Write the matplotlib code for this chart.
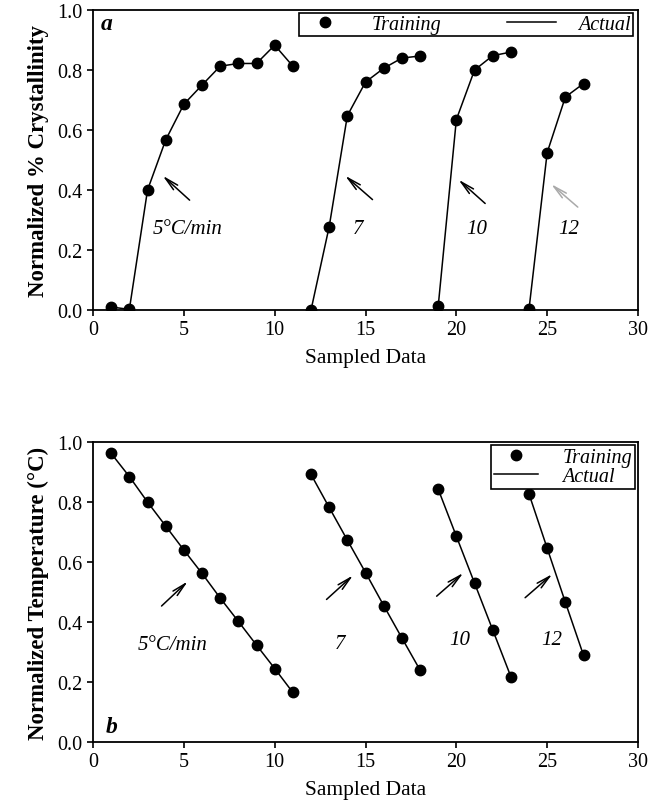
import matplotlib
matplotlib.use('Agg')

import matplotlib.pyplot as plt

plt.rcParams['font.family'] = ['Liberation Serif', 'DejaVu Serif']

# panel a: crystallinity
xa_5 = list(range(1, 12))
ya_5 = [0.01, 0.002, 0.40, 0.567, 0.686, 0.75, 0.813, 0.822, 0.822, 0.883, 0.813]
xa_7 = list(range(12, 19))
ya_7 = [0.0, 0.278, 0.648, 0.76, 0.806, 0.84, 0.847]
xa_10 = list(range(19, 24))
ya_10 = [0.012, 0.635, 0.80, 0.848, 0.86]
xa_12 = list(range(24, 28))
ya_12 = [0.003, 0.525, 0.71, 0.755]

# panel b: temperature
xb_5 = list(range(1, 12))
yb_5 = [0.962, 0.885, 0.80, 0.72, 0.64, 0.562, 0.48, 0.402, 0.323, 0.245, 0.165]
xb_7 = list(range(12, 19))
yb_7 = [0.892, 0.782, 0.673, 0.565, 0.455, 0.347, 0.24]
xb_10 = list(range(19, 24))
yb_10 = [0.843, 0.686, 0.53, 0.374, 0.218]
xb_12 = list(range(24, 28))
yb_12 = [0.827, 0.646, 0.466, 0.289]

rate_labels = ['5\u00b0C/min', '7', '10', '12']

fig = plt.figure(figsize=(6.57, 8.04), dpi=100)
ax_a = fig.add_axes([0.1416, 0.6132, 0.8295, 0.373])
ax_b = fig.add_axes([0.1416, 0.0759, 0.8295, 0.373])


def style_axes(ax):
    ax.set_xlim(0, 30)
    ax.set_ylim(0, 1.0)
    ax.set_xticks([0, 5, 10, 15, 20, 25, 30])
    ax.set_yticks([0.0, 0.2, 0.4, 0.6, 0.8, 1.0])
    ax.set_yticklabels(['0.0', '0.2', '0.4', '0.6', '0.8', '1.0'])
    ax.tick_params(direction='out', length=4, width=1.2, labelsize=14.5,
                   top=False, right=False)
    for s in ax.spines.values():
        s.set_linewidth(1.3)
    ax.set_xlabel('Sampled Data', fontsize=15.5, labelpad=6)


def draw_series(ax, groups):
    first = True
    for xs, ys in groups:
        ax.plot(xs, ys, color='black', lw=1.1, label='Actual' if first else None, zorder=2)
        ax.plot(xs, ys, 'o', color='black', ms=7.5, ls='none',
                label='Training' if first else None, zorder=3)
        first = False


arrow_style = '->,head_length=1.0,head_width=0.22'

# ---- panel a
draw_series(ax_a, [(xa_5, ya_5), (xa_7, ya_7), (xa_10, ya_10), (xa_12, ya_12)])
style_axes(ax_a)
ax_a.set_ylabel('Normalized % Crystallinity', fontsize=16.5, fontweight='bold', labelpad=6)
ax_a.text(0.75, 0.955, 'a', fontsize=17, fontweight='bold', style='italic',
          ha='center', va='center')

arrows_a = [((5.43, 0.36), (3.72, 0.454)), ((15.5, 0.362), (13.76, 0.454)),
            ((21.7, 0.349), (20.0, 0.441)), ((26.8, 0.337), (25.1, 0.426))]
for i, (tail, head) in enumerate(arrows_a):
    c = 'black' if i < 3 else '#aaaaaa'
    ax_a.annotate('', xy=head, xytext=tail,
                  arrowprops=dict(arrowstyle=arrow_style, color=c, lw=1.1))
label_pos_a = [(5.2, 0.272), (14.6, 0.272), (21.1, 0.272), (26.2, 0.272)]
for (x, y), t in zip(label_pos_a, rate_labels):
    ax_a.text(x, y, t, fontsize=15, style='italic', ha='center', va='center')

h, l = ax_a.get_legend_handles_labels()
order = [l.index('Training'), l.index('Actual')]
leg_a = ax_a.legend([h[i] for i in order], [l[i] for i in order], ncol=2,
                    loc='upper right', bbox_to_anchor=(0.99, 0.99),
                    prop={'style': 'italic', 'size': 14.5}, fancybox=False,
                    edgecolor='black', framealpha=1, borderpad=0.1,
                    columnspacing=3.3, handlelength=2.4, markerfirst=True,
                    borderaxespad=0.0, handletextpad=1.1)
leg_a.get_frame().set_linewidth(1.2)

# ---- panel b
draw_series(ax_b, [(xb_5, yb_5), (xb_7, yb_7), (xb_10, yb_10), (xb_12, yb_12)])
style_axes(ax_b)
ax_b.set_ylabel('Normalized Temperature (\u00b0C)', fontsize=16.5, fontweight='bold', labelpad=6)
ax_b.text(1.0, 0.05, 'b', fontsize=17, fontweight='bold', style='italic',
          ha='center', va='center')

arrows_b = [((3.66, 0.447), (5.33, 0.542)), ((12.74, 0.469), (14.43, 0.562)),
            ((18.8, 0.48), (20.5, 0.57)), ((23.67, 0.475), (25.4, 0.566))]
for tail, head in arrows_b:
    ax_b.annotate('', xy=head, xytext=tail,
                  arrowprops=dict(arrowstyle=arrow_style, color='black', lw=1.1))
label_pos_b = [(4.4, 0.324), (13.6, 0.33), (20.2, 0.343), (25.25, 0.343)]
for (x, y), t in zip(label_pos_b, rate_labels):
    ax_b.text(x, y, t, fontsize=15, style='italic', ha='center', va='center')

h, l = ax_b.get_legend_handles_labels()
order = [l.index('Training'), l.index('Actual')]
leg_b = ax_b.legend([h[i] for i in order], [l[i] for i in order], ncol=1,
                    loc='upper right', bbox_to_anchor=(0.995, 0.99),
                    prop={'style': 'italic', 'size': 14.5}, fancybox=False,
                    edgecolor='black', framealpha=1, borderpad=0.15,
                    handlelength=2.2, borderaxespad=0.0, handletextpad=1.2,
                    labelspacing=0.0)
leg_b.get_frame().set_linewidth(1.2)

fig.savefig('out.png', dpi=100)
